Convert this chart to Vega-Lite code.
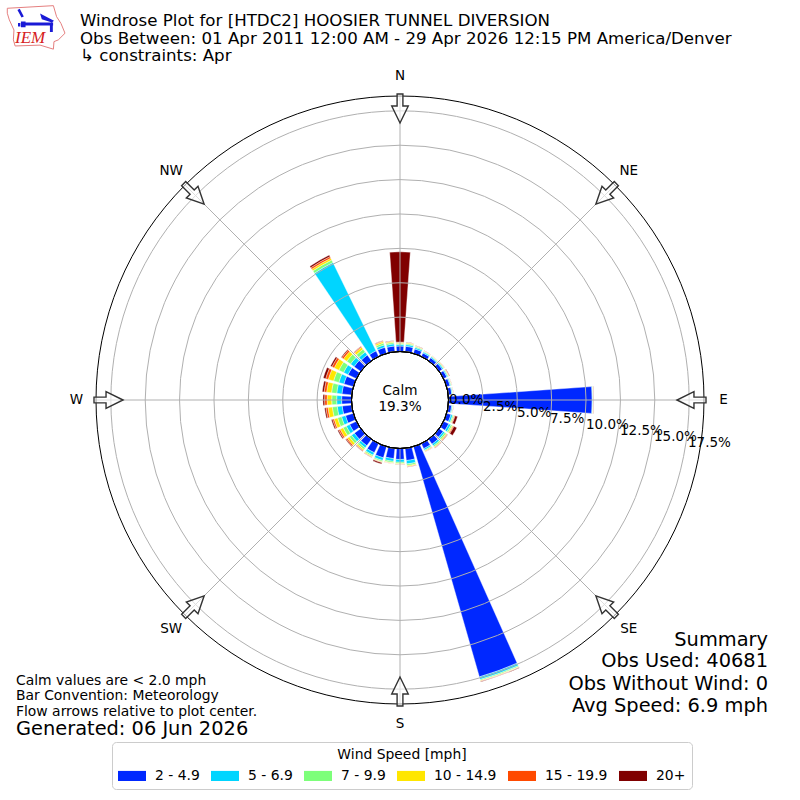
{
  "$schema": "https://vega.github.io/schema/vega-lite/v6.json",
  "width": 800,
  "height": 800,
  "padding": 0,
  "autosize": "none",
  "background": "white",
  "config": {
    "view": {"stroke": null},
    "text": {"font": "DejaVu Sans"},
    "title": {"font": "DejaVu Sans"}
  },
  "title": {
    "text": [
      "Windrose Plot for [HTDC2] HOOSIER TUNNEL DIVERSION",
      "Obs Between: 01 Apr 2011 12:00 AM - 29 Apr 2026 12:15 PM America/Denver",
      "\u00a0↳ constraints: Apr"
    ],
    "anchor": "start",
    "frame": "group",
    "dx": 80,
    "offset": -65,
    "fontSize": 16.67,
    "fontWeight": "normal",
    "lineHeight": 17.5,
    "color": "black"
  },
  "layer": [
    {
      "data": {
        "values": [
          {"dir":0,"speed":"2 - 4.9","pct":0.40},{"dir":0,"speed":"5 - 6.9","pct":0.12},{"dir":0,"speed":"7 - 9.9","pct":0.08},{"dir":0,"speed":"10 - 14.9","pct":0.06},{"dir":0,"speed":"15 - 19.9","pct":0.03},{"dir":0,"speed":"20+","pct":6.56},
          {"dir":10,"speed":"2 - 4.9","pct":0.40},{"dir":10,"speed":"5 - 6.9","pct":0.13},{"dir":10,"speed":"7 - 9.9","pct":0.08},{"dir":10,"speed":"10 - 14.9","pct":0.06},{"dir":10,"speed":"15 - 19.9","pct":0.03},{"dir":10,"speed":"20+","pct":0.01},
          {"dir":20,"speed":"2 - 4.9","pct":0.34},{"dir":20,"speed":"5 - 6.9","pct":0.11},{"dir":20,"speed":"7 - 9.9","pct":0.07},{"dir":20,"speed":"10 - 14.9","pct":0.04},{"dir":20,"speed":"15 - 19.9","pct":0.02},{"dir":20,"speed":"20+","pct":0.01},
          {"dir":30,"speed":"2 - 4.9","pct":0.28},{"dir":30,"speed":"5 - 6.9","pct":0.09},{"dir":30,"speed":"7 - 9.9","pct":0.05},{"dir":30,"speed":"10 - 14.9","pct":0.03},{"dir":30,"speed":"15 - 19.9","pct":0.01},{"dir":30,"speed":"20+","pct":0.01},
          {"dir":40,"speed":"2 - 4.9","pct":0.27},{"dir":40,"speed":"5 - 6.9","pct":0.08},{"dir":40,"speed":"7 - 9.9","pct":0.05},{"dir":40,"speed":"10 - 14.9","pct":0.03},{"dir":40,"speed":"15 - 19.9","pct":0.01},{"dir":40,"speed":"20+","pct":0.01},
          {"dir":50,"speed":"2 - 4.9","pct":0.28},{"dir":50,"speed":"5 - 6.9","pct":0.09},{"dir":50,"speed":"7 - 9.9","pct":0.05},{"dir":50,"speed":"10 - 14.9","pct":0.04},{"dir":50,"speed":"15 - 19.9","pct":0.02},{"dir":50,"speed":"20+","pct":0.01},
          {"dir":60,"speed":"2 - 4.9","pct":0.27},{"dir":60,"speed":"5 - 6.9","pct":0.08},{"dir":60,"speed":"7 - 9.9","pct":0.05},{"dir":60,"speed":"10 - 14.9","pct":0.04},{"dir":60,"speed":"15 - 19.9","pct":0.03},{"dir":60,"speed":"20+","pct":0.03},
          {"dir":70,"speed":"2 - 4.9","pct":0.26},{"dir":70,"speed":"5 - 6.9","pct":0.07},{"dir":70,"speed":"7 - 9.9","pct":0.04},{"dir":70,"speed":"10 - 14.9","pct":0.03},{"dir":70,"speed":"15 - 19.9","pct":0.01},{"dir":70,"speed":"20+","pct":0.01},
          {"dir":80,"speed":"2 - 4.9","pct":0.26},{"dir":80,"speed":"5 - 6.9","pct":0.06},{"dir":80,"speed":"7 - 9.9","pct":0.04},{"dir":80,"speed":"10 - 14.9","pct":0.02},{"dir":80,"speed":"15 - 19.9","pct":0.01},{"dir":80,"speed":"20+","pct":0.01},
          {"dir":90,"speed":"2 - 4.9","pct":10.45},{"dir":90,"speed":"5 - 6.9","pct":0.05},{"dir":90,"speed":"7 - 9.9","pct":0.02},{"dir":90,"speed":"10 - 14.9","pct":0.02},{"dir":90,"speed":"15 - 19.9","pct":0.02},{"dir":90,"speed":"20+","pct":0.02},
          {"dir":100,"speed":"2 - 4.9","pct":0.25},{"dir":100,"speed":"5 - 6.9","pct":0.07},{"dir":100,"speed":"7 - 9.9","pct":0.04},{"dir":100,"speed":"10 - 14.9","pct":0.02},{"dir":100,"speed":"15 - 19.9","pct":0.01},{"dir":100,"speed":"20+","pct":0.01},
          {"dir":110,"speed":"2 - 4.9","pct":0.33},{"dir":110,"speed":"5 - 6.9","pct":0.13},{"dir":110,"speed":"7 - 9.9","pct":0.08},{"dir":110,"speed":"10 - 14.9","pct":0.05},{"dir":110,"speed":"15 - 19.9","pct":0.05},{"dir":110,"speed":"20+","pct":0.19},
          {"dir":120,"speed":"2 - 4.9","pct":0.42},{"dir":120,"speed":"5 - 6.9","pct":0.17},{"dir":120,"speed":"7 - 9.9","pct":0.11},{"dir":120,"speed":"10 - 14.9","pct":0.07},{"dir":120,"speed":"15 - 19.9","pct":0.07},{"dir":120,"speed":"20+","pct":0.24},
          {"dir":130,"speed":"2 - 4.9","pct":0.36},{"dir":130,"speed":"5 - 6.9","pct":0.14},{"dir":130,"speed":"7 - 9.9","pct":0.12},{"dir":130,"speed":"10 - 14.9","pct":0.07},{"dir":130,"speed":"15 - 19.9","pct":0.04},{"dir":130,"speed":"20+","pct":0.03},
          {"dir":140,"speed":"2 - 4.9","pct":0.44},{"dir":140,"speed":"5 - 6.9","pct":0.15},{"dir":140,"speed":"7 - 9.9","pct":0.10},{"dir":140,"speed":"10 - 14.9","pct":0.06},{"dir":140,"speed":"15 - 19.9","pct":0.03},{"dir":140,"speed":"20+","pct":0.02},
          {"dir":150,"speed":"2 - 4.9","pct":0.41},{"dir":150,"speed":"5 - 6.9","pct":0.12},{"dir":150,"speed":"7 - 9.9","pct":0.07},{"dir":150,"speed":"10 - 14.9","pct":0.05},{"dir":150,"speed":"15 - 19.9","pct":0.03},{"dir":150,"speed":"20+","pct":0.01},
          {"dir":160,"speed":"2 - 4.9","pct":17.42},{"dir":160,"speed":"5 - 6.9","pct":0.20},{"dir":160,"speed":"7 - 9.9","pct":0.08},{"dir":160,"speed":"10 - 14.9","pct":0.04},{"dir":160,"speed":"15 - 19.9","pct":0.03},{"dir":160,"speed":"20+","pct":0.03},
          {"dir":170,"speed":"2 - 4.9","pct":0.90},{"dir":170,"speed":"5 - 6.9","pct":0.25},{"dir":170,"speed":"7 - 9.9","pct":0.12},{"dir":170,"speed":"10 - 14.9","pct":0.07},{"dir":170,"speed":"15 - 19.9","pct":0.03},{"dir":170,"speed":"20+","pct":0.02},
          {"dir":180,"speed":"2 - 4.9","pct":0.80},{"dir":180,"speed":"5 - 6.9","pct":0.20},{"dir":180,"speed":"7 - 9.9","pct":0.10},{"dir":180,"speed":"10 - 14.9","pct":0.05},{"dir":180,"speed":"15 - 19.9","pct":0.03},{"dir":180,"speed":"20+","pct":0.01},
          {"dir":190,"speed":"2 - 4.9","pct":0.76},{"dir":190,"speed":"5 - 6.9","pct":0.20},{"dir":190,"speed":"7 - 9.9","pct":0.10},{"dir":190,"speed":"10 - 14.9","pct":0.05},{"dir":190,"speed":"15 - 19.9","pct":0.02},{"dir":190,"speed":"20+","pct":0.01},
          {"dir":200,"speed":"2 - 4.9","pct":0.85},{"dir":200,"speed":"5 - 6.9","pct":0.20},{"dir":200,"speed":"7 - 9.9","pct":0.09},{"dir":200,"speed":"10 - 14.9","pct":0.05},{"dir":200,"speed":"15 - 19.9","pct":0.03},{"dir":200,"speed":"20+","pct":0.10},
          {"dir":210,"speed":"2 - 4.9","pct":0.74},{"dir":210,"speed":"5 - 6.9","pct":0.20},{"dir":210,"speed":"7 - 9.9","pct":0.10},{"dir":210,"speed":"10 - 14.9","pct":0.06},{"dir":210,"speed":"15 - 19.9","pct":0.03},{"dir":210,"speed":"20+","pct":0.01},
          {"dir":220,"speed":"2 - 4.9","pct":0.58},{"dir":220,"speed":"5 - 6.9","pct":0.20},{"dir":220,"speed":"7 - 9.9","pct":0.14},{"dir":220,"speed":"10 - 14.9","pct":0.10},{"dir":220,"speed":"15 - 19.9","pct":0.05},{"dir":220,"speed":"20+","pct":0.03},
          {"dir":230,"speed":"2 - 4.9","pct":0.58},{"dir":230,"speed":"5 - 6.9","pct":0.25},{"dir":230,"speed":"7 - 9.9","pct":0.20},{"dir":230,"speed":"10 - 14.9","pct":0.18},{"dir":230,"speed":"15 - 19.9","pct":0.10},{"dir":230,"speed":"20+","pct":0.06},
          {"dir":240,"speed":"2 - 4.9","pct":0.55},{"dir":240,"speed":"5 - 6.9","pct":0.27},{"dir":240,"speed":"7 - 9.9","pct":0.26},{"dir":240,"speed":"10 - 14.9","pct":0.24},{"dir":240,"speed":"15 - 19.9","pct":0.12},{"dir":240,"speed":"20+","pct":0.08},
          {"dir":250,"speed":"2 - 4.9","pct":0.60},{"dir":250,"speed":"5 - 6.9","pct":0.30},{"dir":250,"speed":"7 - 9.9","pct":0.30},{"dir":250,"speed":"10 - 14.9","pct":0.26},{"dir":250,"speed":"15 - 19.9","pct":0.12},{"dir":250,"speed":"20+","pct":0.09},
          {"dir":260,"speed":"2 - 4.9","pct":0.70},{"dir":260,"speed":"5 - 6.9","pct":0.36},{"dir":260,"speed":"7 - 9.9","pct":0.36},{"dir":260,"speed":"10 - 14.9","pct":0.32},{"dir":260,"speed":"15 - 19.9","pct":0.15},{"dir":260,"speed":"20+","pct":0.10},
          {"dir":270,"speed":"2 - 4.9","pct":0.72},{"dir":270,"speed":"5 - 6.9","pct":0.36},{"dir":270,"speed":"7 - 9.9","pct":0.36},{"dir":270,"speed":"10 - 14.9","pct":0.34},{"dir":270,"speed":"15 - 19.9","pct":0.18},{"dir":270,"speed":"20+","pct":0.12},
          {"dir":280,"speed":"2 - 4.9","pct":0.72},{"dir":280,"speed":"5 - 6.9","pct":0.38},{"dir":280,"speed":"7 - 9.9","pct":0.38},{"dir":280,"speed":"10 - 14.9","pct":0.36},{"dir":280,"speed":"15 - 19.9","pct":0.18},{"dir":280,"speed":"20+","pct":0.14},
          {"dir":290,"speed":"2 - 4.9","pct":0.72},{"dir":290,"speed":"5 - 6.9","pct":0.38},{"dir":290,"speed":"7 - 9.9","pct":0.40},{"dir":290,"speed":"10 - 14.9","pct":0.40},{"dir":290,"speed":"15 - 19.9","pct":0.20},{"dir":290,"speed":"20+","pct":0.18},
          {"dir":300,"speed":"2 - 4.9","pct":0.68},{"dir":300,"speed":"5 - 6.9","pct":0.36},{"dir":300,"speed":"7 - 9.9","pct":0.38},{"dir":300,"speed":"10 - 14.9","pct":0.38},{"dir":300,"speed":"15 - 19.9","pct":0.18},{"dir":300,"speed":"20+","pct":0.12},
          {"dir":310,"speed":"2 - 4.9","pct":0.60},{"dir":310,"speed":"5 - 6.9","pct":0.32},{"dir":310,"speed":"7 - 9.9","pct":0.34},{"dir":310,"speed":"10 - 14.9","pct":0.30},{"dir":310,"speed":"15 - 19.9","pct":0.14},{"dir":310,"speed":"20+","pct":0.07},
          {"dir":320,"speed":"2 - 4.9","pct":0.52},{"dir":320,"speed":"5 - 6.9","pct":0.26},{"dir":320,"speed":"7 - 9.9","pct":0.26},{"dir":320,"speed":"10 - 14.9","pct":0.17},{"dir":320,"speed":"15 - 19.9","pct":0.07},{"dir":320,"speed":"20+","pct":0.03},
          {"dir":330,"speed":"2 - 4.9","pct":0.45},{"dir":330,"speed":"5 - 6.9","pct":7.15},{"dir":330,"speed":"7 - 9.9","pct":0.20},{"dir":330,"speed":"10 - 14.9","pct":0.15},{"dir":330,"speed":"15 - 19.9","pct":0.13},{"dir":330,"speed":"20+","pct":0.12},
          {"dir":340,"speed":"2 - 4.9","pct":0.46},{"dir":340,"speed":"5 - 6.9","pct":0.18},{"dir":340,"speed":"7 - 9.9","pct":0.14},{"dir":340,"speed":"10 - 14.9","pct":0.11},{"dir":340,"speed":"15 - 19.9","pct":0.06},{"dir":340,"speed":"20+","pct":0.03},
          {"dir":350,"speed":"2 - 4.9","pct":0.42},{"dir":350,"speed":"5 - 6.9","pct":0.16},{"dir":350,"speed":"7 - 9.9","pct":0.11},{"dir":350,"speed":"10 - 14.9","pct":0.08},{"dir":350,"speed":"15 - 19.9","pct":0.04},{"dir":350,"speed":"20+","pct":0.02}
        ]
      },
      "transform": [
        {"stack": "pct", "groupby": ["dir"], "as": ["r0", "r1"]},
        {
          "lookup": "dir",
          "from": {
            "data": {
              "values": [
                {"dir":0,"start":-4,"end":4},{"dir":10,"start":6,"end":14},{"dir":20,"start":16,"end":24},{"dir":30,"start":26,"end":34},
                {"dir":40,"start":36,"end":44},{"dir":50,"start":46,"end":54},{"dir":60,"start":56,"end":64},{"dir":70,"start":66,"end":74},
                {"dir":80,"start":76,"end":84},{"dir":90,"start":86,"end":94},{"dir":100,"start":96,"end":104},{"dir":110,"start":106,"end":114},
                {"dir":120,"start":116,"end":124},{"dir":130,"start":126,"end":134},{"dir":140,"start":136,"end":144},{"dir":150,"start":146,"end":154},
                {"dir":160,"start":156,"end":164},{"dir":170,"start":166,"end":174},{"dir":180,"start":176,"end":184},{"dir":190,"start":186,"end":194},
                {"dir":200,"start":196,"end":204},{"dir":210,"start":206,"end":214},{"dir":220,"start":216,"end":224},{"dir":230,"start":226,"end":234},
                {"dir":240,"start":236,"end":244},{"dir":250,"start":246,"end":254},{"dir":260,"start":256,"end":264},{"dir":270,"start":266,"end":274},
                {"dir":280,"start":276,"end":284},{"dir":290,"start":286,"end":294},{"dir":300,"start":296,"end":304},{"dir":310,"start":306,"end":314},
                {"dir":320,"start":316,"end":324},{"dir":330,"start":326,"end":334},{"dir":340,"start":336,"end":344},{"dir":350,"start":346,"end":354}
              ]
            },
            "key": "dir",
            "fields": ["start", "end"]
          }
        }
      ],
      "mark": {"type": "arc", "stroke": "white", "strokeWidth": 0.4},
      "encoding": {
        "theta": {"field": "start", "type": "quantitative", "scale": {"domain": [0, 360], "range": [0, 6.283185307179587]}},
        "theta2": {"field": "end"},
        "radius": {"field": "r1", "type": "quantitative", "scale": {"type": "linear", "domain": [0, 18.58], "range": [48.5, 304]}},
        "radius2": {"field": "r0"},
        "fill": {
          "field": "speed",
          "type": "nominal",
          "scale": {
            "domain": ["2 - 4.9", "5 - 6.9", "7 - 9.9", "10 - 14.9", "15 - 19.9", "20+"],
            "range": ["#0028ff", "#00d5ff", "#7dff7a", "#ffe600", "#ff4a00", "#800000"]
          },
          "legend": {
            "orient": "none",
            "legendX": 112,
            "legendY": 742,
            "direction": "horizontal",
            "columns": 6,
            "title": "Wind Speed [mph]",
            "titleAnchor": "middle",
            "titleFont": "DejaVu Sans",
            "titleFontSize": 13.9,
            "titleFontWeight": "normal",
            "titleColor": "black",
            "titlePadding": 0,
            "labelFont": "DejaVu Sans",
            "labelFontSize": 13.9,
            "labelColor": "black",
            "labelOffset": 9,
            "symbolType": "M-1,-0.36H1V0.36H-1Z",
            "symbolSize": 784,
            "symbolStrokeWidth": 0,
            "columnPadding": 11,
            "padding": 6,
            "fillColor": "white",
            "strokeColor": "#cccccc",
            "cornerRadius": 4
          }
        }
      }
    },
    {
      "data": {"values": [{"pct":2.5},{"pct":5},{"pct":7.5},{"pct":10},{"pct":12.5},{"pct":15},{"pct":17.5}]},
      "mark": {"type": "arc", "theta": 0, "theta2": 6.283185307179587, "filled": false, "fill": null, "stroke": "#b0b0b0", "strokeWidth": 1},
      "encoding": {
        "radius": {"field": "pct", "type": "quantitative", "stack": null}
      }
    },
    {
      "data": {
        "values": [
          {"bearing":0,"east":0,"north":48.5,"east2":0,"north2":304},
          {"bearing":45,"east":34.3,"north":34.3,"east2":215,"north2":215},
          {"bearing":90,"east":48.5,"north":0,"east2":304,"north2":0},
          {"bearing":135,"east":34.3,"north":-34.3,"east2":215,"north2":-215},
          {"bearing":180,"east":0,"north":-48.5,"east2":0,"north2":-304},
          {"bearing":225,"east":-34.3,"north":-34.3,"east2":-215,"north2":-215},
          {"bearing":270,"east":-48.5,"north":0,"east2":-304,"north2":0},
          {"bearing":315,"east":-34.3,"north":34.3,"east2":-215,"north2":215}
        ]
      },
      "mark": {"type": "rule", "stroke": "#b0b0b0", "strokeWidth": 1},
      "encoding": {
        "x": {"field": "east", "type": "quantitative", "axis": null, "scale": {"domain": [-400, 400], "range": [0, 800]}},
        "y": {"field": "north", "type": "quantitative", "axis": null, "scale": {"domain": [-400, 400], "range": [800, 0]}},
        "x2": {"field": "east2"},
        "y2": {"field": "north2"}
      }
    },
    {
      "data": {"values": [{"pct":0},{"pct":18.58}]},
      "mark": {"type": "arc", "theta": 0, "theta2": 6.283185307179587, "filled": false, "fill": null, "stroke": "black", "strokeWidth": 1},
      "encoding": {
        "radius": {"field": "pct", "type": "quantitative", "stack": null}
      }
    },
    {
      "data": {
        "values": [
          {"name":"N","bearing":0,"east":0,"north":291.5},
          {"name":"NE","bearing":45,"east":206.1,"north":206.1},
          {"name":"E","bearing":90,"east":291.5,"north":0},
          {"name":"SE","bearing":135,"east":206.1,"north":-206.1},
          {"name":"S","bearing":180,"east":0,"north":-291.5},
          {"name":"SW","bearing":225,"east":-206.1,"north":-206.1},
          {"name":"W","bearing":270,"east":-291.5,"north":0},
          {"name":"NW","bearing":315,"east":-206.1,"north":206.1}
        ]
      },
      "mark": {
        "type": "point",
        "shape": "M0,1L0.57,-0.17L0.2,-0.17L0.2,-1L-0.2,-1L-0.2,-0.17L-0.57,-0.17Z",
        "size": 841,
        "filled": true,
        "fill": "white",
        "fillOpacity": 0.6,
        "stroke": "#333333",
        "strokeWidth": 1.4,
        "opacity": 1
      },
      "encoding": {
        "x": {"field": "east", "type": "quantitative"},
        "y": {"field": "north", "type": "quantitative"},
        "angle": {"field": "bearing", "type": "quantitative", "scale": null}
      }
    },
    {
      "data": {
        "values": [
          {"name":"N","bearing":0,"pct":20},{"name":"NE","bearing":45,"pct":20},{"name":"E","bearing":90,"pct":20},{"name":"SE","bearing":135,"pct":20},
          {"name":"S","bearing":180,"pct":20},{"name":"SW","bearing":225,"pct":20},{"name":"W","bearing":270,"pct":20},{"name":"NW","bearing":315,"pct":20}
        ]
      },
      "mark": {"type": "text", "fontSize": 13.5, "align": "center", "baseline": "middle", "color": "black"},
      "encoding": {
        "theta": {"field": "bearing", "type": "quantitative"},
        "radius": {"field": "pct", "type": "quantitative", "stack": null},
        "text": {"field": "name"}
      }
    },
    {
      "data": {
        "values": [
          {"label":"0.0%","east":49,"north":0},{"label":"2.5%","east":83,"north":-6.5},{"label":"5.0%","east":117,"north":-12.5},{"label":"7.5%","east":150,"north":-18.5},
          {"label":"10.0%","east":186,"north":-24.5},{"label":"12.5%","east":220,"north":-30.5},{"label":"15.0%","east":254,"north":-37},{"label":"17.5%","east":288,"north":-42.5}
        ]
      },
      "mark": {"type": "text", "fontSize": 13.5, "align": "left", "baseline": "middle", "color": "black"},
      "encoding": {
        "x": {"field": "east", "type": "quantitative"},
        "y": {"field": "north", "type": "quantitative"},
        "text": {"field": "label"}
      }
    },
    {
      "data": {"values": [{"label":"Calm","east":0,"north":9},{"label":"19.3%","east":0,"north":-7}]},
      "mark": {"type": "text", "fontSize": 13.6, "align": "center", "baseline": "middle", "color": "black"},
      "encoding": {
        "x": {"field": "east", "type": "quantitative"},
        "y": {"field": "north", "type": "quantitative"},
        "text": {"field": "label"}
      }
    },
    {
      "data": {
        "values": [
          {"label":"Summary","east":368,"north":-240},
          {"label":"Obs Used: 40681","east":368,"north":-261},
          {"label":"Obs Without Wind: 0","east":368,"north":-284},
          {"label":"Avg Speed: 6.9 mph","east":368,"north":-306}
        ]
      },
      "mark": {"type": "text", "fontSize": 19.4, "align": "right", "baseline": "middle", "color": "black"},
      "encoding": {
        "x": {"field": "east", "type": "quantitative"},
        "y": {"field": "north", "type": "quantitative"},
        "text": {"field": "label"}
      }
    },
    {
      "data": {
        "values": [
          {"label":"Calm values are < 2.0 mph","east":-384,"north":-281},
          {"label":"Bar Convention: Meteorology","east":-384,"north":-296},
          {"label":"Flow arrows relative to plot center.","east":-384,"north":-312}
        ]
      },
      "mark": {"type": "text", "fontSize": 13.9, "align": "left", "baseline": "middle", "color": "black"},
      "encoding": {
        "x": {"field": "east", "type": "quantitative"},
        "y": {"field": "north", "type": "quantitative"},
        "text": {"field": "label"}
      }
    },
    {
      "data": {"values": [{"label":"Generated: 06 Jun 2026","east":-384,"north":-329}]},
      "mark": {"type": "text", "fontSize": 19.4, "align": "left", "baseline": "middle", "color": "black"},
      "encoding": {
        "x": {"field": "east", "type": "quantitative"},
        "y": {"field": "north", "type": "quantitative"},
        "text": {"field": "label"}
      }
    },
    {
      "data": {"values": [{"east":-364,"north":372}]},
      "mark": {
        "type": "point",
        "shape": "M-0.99,-0.68L0.6,-0.77L0.71,-0.39L0.86,-0.16L1,0.18L0.77,0.41L0.62,0.47L0.6,0.73L0.14,0.59L-0.72,0.62L-0.78,0.41L-0.76,0.07L-0.92,-0.28L-0.99,-0.51Z",
        "size": 3364,
        "filled": false,
        "stroke": "#e57f7f",
        "strokeWidth": 1,
        "opacity": 1
      },
      "encoding": {
        "x": {"field": "east", "type": "quantitative"},
        "y": {"field": "north", "type": "quantitative"}
      }
    },
    {
      "data": {"values": [{"east":-364,"north":372}]},
      "mark": {
        "type": "point",
        "shape": "M-0.38,-0.19H0.59V-0.09H-0.38ZM-0.64,-0.62L-0.5,-0.36L-0.42,-0.4L-0.56,-0.66ZM0.14,-0.5L0.62,-0.25L0.55,-0.19L0.2,-0.3ZM-0.52,-0.22H-0.36V-0.03H-0.52ZM0.48,-0.1H0.58V0.14H0.48ZM-0.62,-0.17H-0.54V-0.05H-0.62Z",
        "size": 3364,
        "filled": true,
        "fill": "#1a1ad6",
        "opacity": 1
      },
      "encoding": {
        "x": {"field": "east", "type": "quantitative"},
        "y": {"field": "north", "type": "quantitative"}
      }
    },
    {
      "data": {"values": [{"label":"IEM","east":-385,"north":362}]},
      "mark": {"type": "text", "font": "Liberation Serif", "fontStyle": "italic", "fontSize": 17, "align": "left", "baseline": "middle", "color": "#d62020"},
      "encoding": {
        "x": {"field": "east", "type": "quantitative"},
        "y": {"field": "north", "type": "quantitative"},
        "text": {"field": "label"}
      }
    }
  ]
}
